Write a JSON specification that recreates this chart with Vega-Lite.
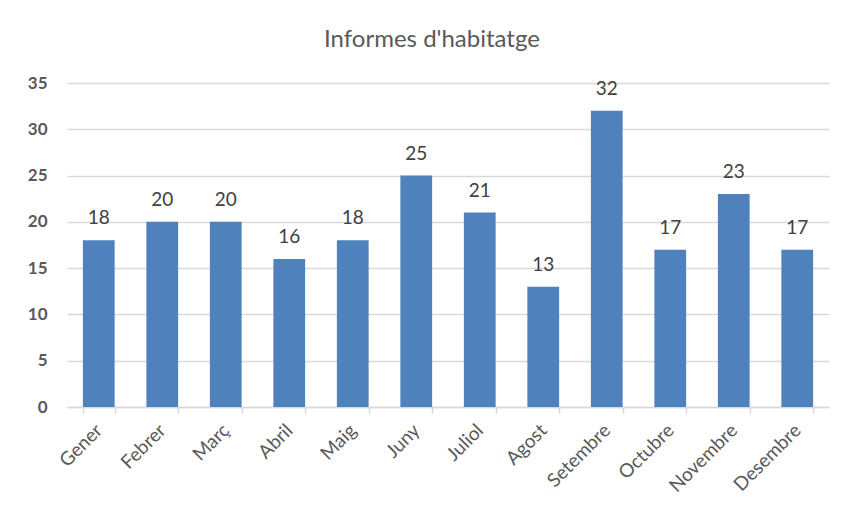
{
  "$schema": "https://vega.github.io/schema/vega-lite/v6.json",
  "autosize": {"type": "none"},
  "width": 762,
  "height": 324,
  "padding": {"left": 67, "top": 83, "right": 14, "bottom": 101},
  "background": "white",
  "title": {
    "text": "Informes d'habitatge",
    "anchor": "middle",
    "dx": -16,
    "offset": 22,
    "fontSize": 24,
    "font": "Lato",
    "fontWeight": "normal",
    "color": "#595959"
  },
  "data": {
    "values": [
      {"mes": "Gener", "n": 18},
      {"mes": "Febrer", "n": 20},
      {"mes": "Març", "n": 20},
      {"mes": "Abril", "n": 16},
      {"mes": "Maig", "n": 18},
      {"mes": "Juny", "n": 25},
      {"mes": "Juliol", "n": 21},
      {"mes": "Agost", "n": 13},
      {"mes": "Setembre", "n": 32},
      {"mes": "Octubre", "n": 17},
      {"mes": "Novembre", "n": 23},
      {"mes": "Desembre", "n": 17}
    ]
  },
  "encoding": {
    "x": {
      "field": "mes",
      "type": "nominal",
      "sort": null,
      "scale": {"paddingInner": 0.5, "paddingOuter": 0.25},
      "axis": {
        "title": null,
        "labelAngle": -45,
        "labelAlign": "right",
        "labelBaseline": "middle",
        "labelFont": "Lato",
        "labelFontSize": 19,
        "labelColor": "#595959",
        "labelPadding": 14,
        "domainColor": "#D9D9D9",
        "domainWidth": 1.5,
        "tickColor": "#D9D9D9",
        "tickWidth": 1.5,
        "tickSize": 6,
        "tickBand": "extent",
        "grid": false
      }
    },
    "y": {
      "field": "n",
      "type": "quantitative",
      "scale": {"domain": [0, 35]},
      "axis": {
        "title": null,
        "values": [0, 5, 10, 15, 20, 25, 30, 35],
        "domain": false,
        "ticks": false,
        "labelPadding": 20,
        "labelFont": "Lato",
        "labelFontSize": 17,
        "labelFontWeight": "bold",
        "labelColor": "#595959",
        "gridColor": "#D9D9D9",
        "gridWidth": 1.5
      }
    }
  },
  "layer": [
    {"mark": {"type": "bar", "color": "#4F81BD"}},
    {
      "mark": {
        "type": "text",
        "baseline": "bottom",
        "dy": -12,
        "font": "Lato",
        "fontSize": 19,
        "color": "#404040"
      },
      "encoding": {"text": {"field": "n", "type": "quantitative"}}
    }
  ],
  "config": {"view": {"stroke": null}}
}
